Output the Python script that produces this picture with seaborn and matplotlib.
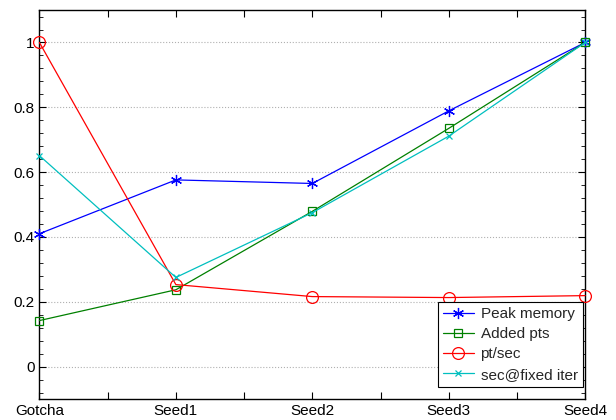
import numpy as np
import pandas as pd
import matplotlib
matplotlib.use('Agg')
import matplotlib.pyplot as plt
import seaborn as sns
from matplotlib.ticker import MultipleLocator, AutoMinorLocator

# datos
categorias = ['Gotcha', 'Seed1', 'Seed2', 'Seed3', 'Seed4']
peak_memory = [0.41, 0.576, 0.565, 0.789, 1.0]
added_pts = [0.142, 0.237, 0.479, 0.735, 1.0]
pt_sec = [1.0, 0.253, 0.216, 0.213, 0.219]
sec_fixed = [0.651, 0.275, 0.475, 0.711, 1.0]

series = [
    ('Peak memory', peak_memory, (0, 0, 1), (6, 2, 0), 8, 'full'),
    ('Added pts', added_pts, (0, 0.5, 0), 's', 6, 'none'),
    ('pt/sec', pt_sec, (1, 0, 0), 'o', 8.5, 'none'),
    ('sec@fixed iter', sec_fixed, (0, 0.75, 0.75), 'x', 5, 'full'),
]

sns.set_style('ticks')
plt.rcParams['font.family'] = ['Liberation Sans', 'DejaVu Sans']

fig = plt.figure(figsize=(6.16, 4.2), dpi=100)
ax = fig.add_axes([0.064, 0.05, 0.886, 0.926])

x = np.arange(len(categorias))
for nombre, valores, color, marcador, tam, relleno in series:
    kw = dict(marker=marcador, markersize=tam, markeredgewidth=0.9, linewidth=0.9,
              markeredgecolor=color, clip_on=False, zorder=3)
    kw['markerfacecolor'] = 'none' if relleno == 'none' else color
    sns.lineplot(x=x, y=valores, color=color, label=nombre, ax=ax, **kw)

ax.set_xlim(0, 4)
ax.set_ylim(-0.1, 1.1)
ax.set_xticks(x)
ax.set_xticklabels(categorias)
ax.xaxis.set_minor_locator(MultipleLocator(0.5))
ax.yaxis.set_major_locator(MultipleLocator(0.2))
ax.yaxis.set_minor_locator(AutoMinorLocator(5))
ax.yaxis.set_major_formatter(plt.FuncFormatter(lambda v, p: f'{v:g}' if abs(v) > 1e-9 else '0'))

ax.tick_params(axis='both', which='both', direction='in', top=True, right=True,
               labelsize=11, colors='black')
ax.tick_params(axis='both', which='major', length=5, width=0.8)
ax.tick_params(axis='x', which='minor', length=5, width=0.8)
ax.tick_params(axis='y', which='minor', length=3, width=0.6)
ax.grid(True, axis='y', which='major', linestyle=':', color='#b0b0b0', linewidth=0.8)
for s in ax.spines.values():
    s.set_color('black')
    s.set_linewidth(1.0)
ax.set_xlabel('')
ax.set_ylabel('')

leg = ax.legend(loc='lower right', bbox_to_anchor=(0.996, 0.031), borderaxespad=0,
                fontsize=11, frameon=True, fancybox=False,
                handlelength=2.0, handletextpad=0.45,
                labelspacing=0.4, borderpad=0.35)
leg.get_frame().set_edgecolor('black')
leg.get_frame().set_linewidth(0.8)
leg.get_frame().set_alpha(1)

fig.savefig('out.png', dpi=100)
